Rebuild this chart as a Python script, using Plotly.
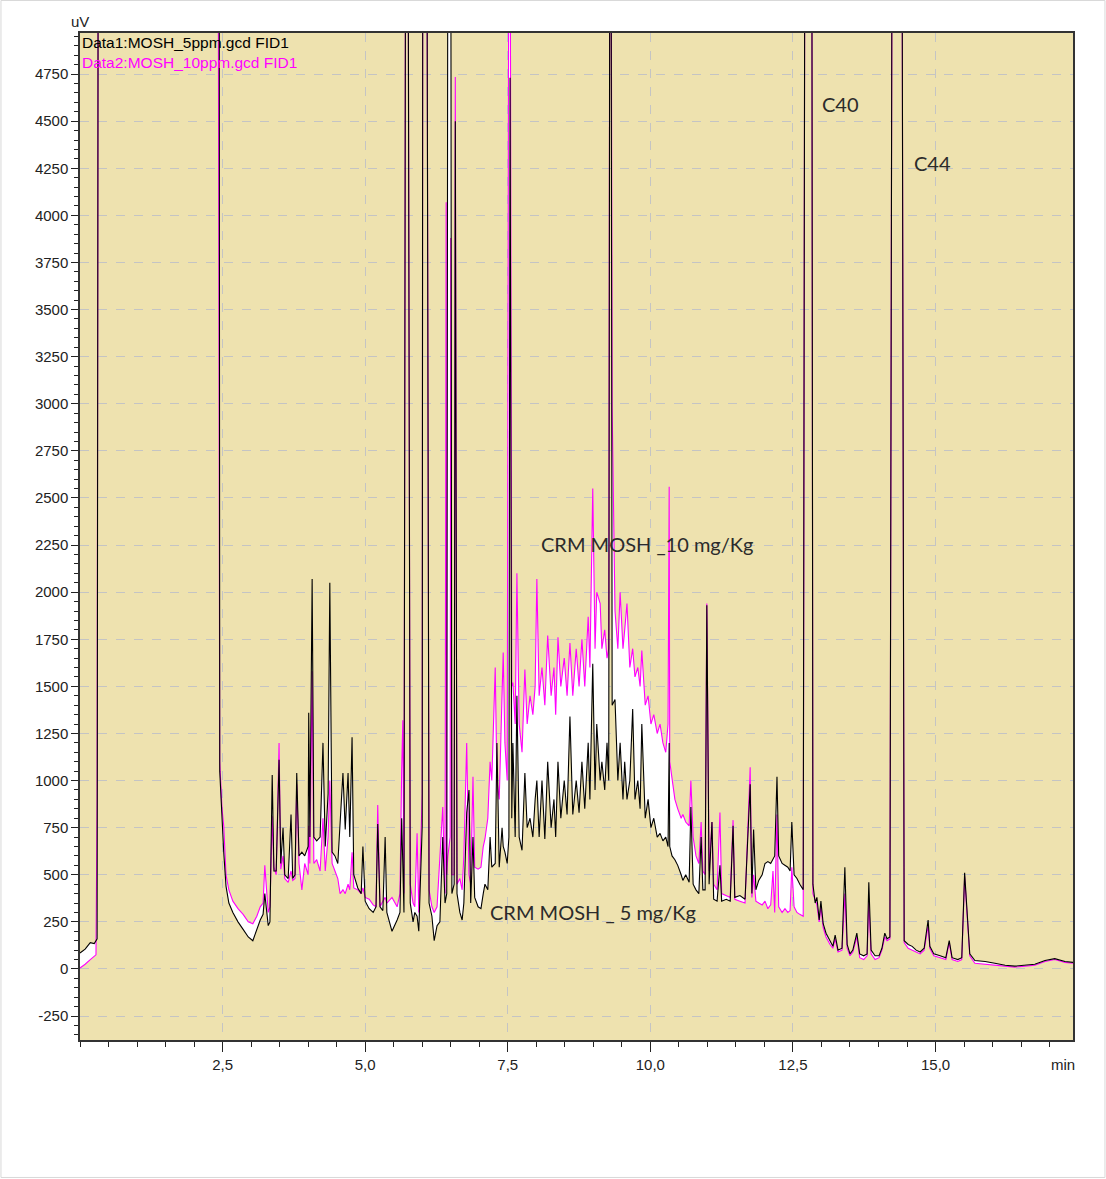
import plotly.graph_objects as go

# Retention time (min) and detector signal (uV).
time_min = [
    0.00, 0.09, 0.18, 0.25, 0.28, 0.30, 0.32, 2.42, 2.44, 2.45, 2.49, 2.52, 2.56, 2.61, 2.68, 2.77, 2.86, 2.95,
    3.03, 3.10, 3.16, 3.21, 3.24, 3.30, 3.33, 3.37, 3.40, 3.44, 3.49, 3.52, 3.56, 3.59, 3.65, 3.70, 3.73, 3.77,
    3.80, 3.84, 3.89, 3.94, 4.00, 4.01, 4.03, 4.07, 4.10, 4.15, 4.21, 4.26, 4.30, 4.35, 4.38, 4.42, 4.47, 4.52,
    4.56, 4.61, 4.65, 4.70, 4.73, 4.77, 4.80, 4.87, 4.93, 4.96, 5.00, 5.07, 5.14, 5.19, 5.22, 5.26, 5.31, 5.35,
    5.38, 5.47, 5.56, 5.61, 5.64, 5.66, 5.68, 5.71, 5.75, 5.79, 5.84, 5.87, 5.91, 5.94, 6.00, 6.01, 6.08, 6.12,
    6.17, 6.21, 6.26, 6.31, 6.36, 6.40, 6.42, 6.43, 6.45, 6.49, 6.50, 6.52, 6.56, 6.58, 6.61, 6.66, 6.70, 6.73,
    6.78, 6.82, 6.85, 6.89, 6.92, 6.98, 7.03, 7.07, 7.10, 7.15, 7.19, 7.22, 7.28, 7.31, 7.35, 7.40, 7.42, 7.45,
    7.49, 7.52, 7.54, 7.57, 7.59, 7.63, 7.66, 7.70, 7.75, 7.80, 7.84, 7.89, 7.94, 7.98, 8.01, 8.05, 8.10, 8.15,
    8.20, 8.26, 8.31, 8.34, 8.38, 8.43, 8.49, 8.54, 8.59, 8.64, 8.70, 8.75, 8.80, 8.85, 8.91, 8.94, 8.99, 9.03,
    9.06, 9.12, 9.15, 9.20, 9.24, 9.27, 9.29, 9.31, 9.33, 9.38, 9.43, 9.47, 9.52, 9.55, 9.59, 9.64, 9.69, 9.73,
    9.78, 9.82, 9.85, 9.91, 9.96, 10.01, 10.06, 10.12, 10.17, 10.22, 10.27, 10.31, 10.33, 10.34, 10.38, 10.43,
    10.48, 10.54, 10.57, 10.62, 10.68, 10.71, 10.75, 10.80, 10.85, 10.89, 10.92, 10.96, 10.99, 11.03, 11.08,
    11.11, 11.17, 11.22, 11.25, 11.33, 11.40, 11.45, 11.48, 11.57, 11.66, 11.75, 11.78, 11.81, 11.85, 11.90,
    11.96, 12.01, 12.06, 12.11, 12.15, 12.18, 12.22, 12.25, 12.31, 12.36, 12.41, 12.45, 12.48, 12.52, 12.57,
    12.62, 12.68, 12.71, 12.83, 12.85, 12.89, 12.92, 12.96, 12.99, 13.03, 13.08, 13.15, 13.20, 13.24, 13.29,
    13.36, 13.41, 13.45, 13.50, 13.55, 13.62, 13.67, 13.74, 13.80, 13.83, 13.87, 13.94, 14.01, 14.06, 14.11,
    14.15, 14.20, 14.24, 14.41, 14.45, 14.52, 14.59, 14.66, 14.73, 14.80, 14.87, 14.90, 14.97, 15.08, 15.18,
    15.24, 15.29, 15.39, 15.46, 15.51, 15.55, 15.60, 15.69, 15.87, 16.04, 16.22, 16.39, 16.57, 16.74, 16.92,
    17.09, 17.27, 17.41,
]

# Data1: MOSH_5ppm (black); off-scale peaks recorded as 6000
mosh_5ppm = [
    85, 105, 140, 135, 150, 160, 6000, 6000, 6000, 1050, 780, 620, 440, 350, 300, 250, 210, 170,
    150, 210, 260, 290, 400, 230, 250, 1030, 520, 520, 1110, 560, 750, 500, 480, 820, 480, 500,
    1040, 600, 620, 600, 650, 1360, 700, 2070, 700, 680, 700, 1200, 650, 930, 2050, 620, 600, 560,
    750, 1040, 740, 1040, 700, 1230, 500, 430, 400, 650, 360, 320, 300, 330, 770, 330, 310, 700,
    300, 200, 260, 300, 800, 500, 300, 6000, 6000, 350, 250, 300, 280, 200, 760, 6000, 6000, 350,
    280, 150, 230, 250, 700, 350, 400, 400, 6000, 6000, 6000, 400, 450, 4500, 400, 300, 260, 350,
    830, 950, 350, 700, 380, 330, 320, 400, 450, 420, 700, 540, 560, 1200, 540, 750, 650, 620,
    560, 700, 4730, 800, 1200, 700, 1450, 700, 630, 1040, 750, 800, 700, 900, 1000, 700, 1000, 690,
    1100, 750, 900, 700, 1100, 800, 1000, 820, 1340, 820, 1000, 830, 1100, 850, 1200, 900, 1620, 950,
    1300, 1000, 1100, 950, 1200, 1000, 6000, 6000, 1400, 1430, 1000, 1200, 900, 1100, 900, 1000, 1380, 900,
    1000, 850, 1300, 800, 900, 750, 800, 700, 720, 680, 700, 650, 1200, 650, 600, 580,
    550, 500, 470, 500, 460, 860, 450, 420, 400, 700, 420, 420, 1930, 450, 780,
    370, 360, 550, 360, 370, 360, 760, 380, 390, 370, 980, 400, 740, 420, 470,
    500, 560, 570, 560, 580, 600, 1020, 600, 560, 550, 540, 520, 780, 500, 480,
    450, 420, 6000, 6000, 450, 350, 380, 260, 360, 240, 190, 150, 120, 180, 100,
    110, 540, 130, 80, 100, 190, 80, 70, 80, 460, 100, 70, 70, 110, 190,
    160, 170, 6000, 6000, 150, 130, 120, 100, 90, 110, 260, 120, 80, 70, 60,
    150, 60, 50, 60, 510, 300, 80, 45, 40, 30, 20, 15, 20, 25, 45,
    55, 40, 35,
]

# Data2: MOSH_10ppm (magenta)
mosh_10ppm = [
    5, 25, 50, 65, 75, 900, 6000, 6000, 2900, 1100, 850, 760, 500, 420, 360, 320, 290, 250,
    240, 280, 330, 350, 550, 300, 330, 810, 540, 500, 1200, 530, 600, 480, 460, 520, 470, 480,
    980, 560, 420, 560, 500, 760, 560, 1580, 560, 580, 520, 800, 520, 700, 1000, 560, 520, 480,
    400, 420, 400, 450, 420, 620, 430, 420, 400, 430, 380, 370, 340, 330, 870, 330, 360, 380,
    350, 380, 330, 400, 1060, 1320, 400, 6000, 6000, 450, 350, 330, 720, 300, 930, 6000, 6000, 420,
    330, 300, 330, 580, 860, 400, 4070, 500, 600, 700, 3880, 500, 500, 4735, 450, 480, 420, 600,
    1200, 500, 450, 1020, 540, 530, 540, 650, 690, 800, 1100, 1000, 1600, 1000, 900, 1460, 1680, 1200,
    1000, 6000, 6000, 1500, 1520, 1300, 2100, 1300, 1150, 1590, 1300, 1450, 1350, 1500, 2070, 1450, 1600, 1400,
    1770, 1450, 1600, 1350, 1760, 1500, 1650, 1450, 1730, 1450, 1700, 1500, 1750, 1500, 1870, 1600, 2550, 1700,
    2000, 1940, 1700, 1800, 1650, 1700, 6000, 6000, 2980, 1900, 1700, 2000, 1700, 1800, 1940, 1600, 1700, 1550,
    1600, 1500, 1690, 1400, 1450, 1300, 1350, 1250, 1300, 1200, 1150, 1300, 2560, 1100, 1000, 900,
    850, 800, 820, 780, 760, 1000, 700, 600, 560, 780, 520, 500, 1940, 520, 780,
    450, 420, 830, 400, 390, 380, 790, 370, 360, 350, 1070, 380, 500, 360, 350,
    340, 360, 320, 340, 520, 300, 820, 330, 300, 320, 300, 310, 540, 330, 300,
    290, 280, 6000, 6000, 400, 360, 340, 250, 330, 220, 170, 130, 110, 160, 90,
    100, 400, 110, 70, 90, 170, 60, 50, 70, 360, 80, 50, 60, 100, 170,
    150, 160, 6000, 6000, 140, 110, 100, 90, 80, 100, 230, 110, 70, 60, 50,
    140, 50, 40, 50, 490, 280, 70, 30, 25, 20, 15, 10, 15, 20, 40,
    50, 35, 30,
]

x_tick_vals = [2.5, 5.0, 7.5, 10.0, 12.5, 15.0]
x_tick_text = ["2,5", "5,0", "7,5", "10,0", "12,5", "15,0"]
y_tick_vals = [-250, 0, 250, 500, 750, 1000, 1250, 1500, 1750, 2000, 2250, 2500,
               2750, 3000, 3250, 3500, 3750, 4000, 4250, 4500, 4750]
y_tick_text = [str(v) for v in y_tick_vals]

legend_labels = ["Data1:MOSH_5ppm.gcd FID1", "Data2:MOSH_10ppm.gcd FID1"]
peak_labels = [
    ("CRM MOSH _10 mg/Kg", 9.94, 2256),
    ("CRM MOSH _ 5 mg/Kg", 8.99, 303),
    ("C40", 13.34, 4591),
    ("C44", 14.94, 4278),
]

NARROW = "Liberation Sans Narrow, Arial Narrow, Liberation Sans, Arial, sans-serif"
LABEL_FONT = "Lato, Carlito, Calibri, Noto Sans, sans-serif"

fig = go.Figure()
fig.add_trace(go.Scatter(
    x=time_min, y=mosh_10ppm, mode="lines",
    line=dict(color="#FF00FF", width=1.1), name=legend_labels[1], showlegend=False,
))
fig.add_trace(go.Scatter(
    x=time_min, y=mosh_5ppm, mode="lines",
    line=dict(color="#000000", width=1.1), name=legend_labels[0], showlegend=False,
    fill="tonexty", fillcolor="#FFFFFF",
))

annotations = [
    dict(text=legend_labels[0], x=0, y=0.991, xref="paper", yref="paper",
         xanchor="left", yanchor="middle", showarrow=False,
         font=dict(family=NARROW, size=15.5, color="#000000")),
    dict(text=legend_labels[1], x=0, y=0.971, xref="paper", yref="paper",
         xanchor="left", yanchor="middle", showarrow=False,
         font=dict(family=NARROW, size=15.5, color="#FF00FF")),
    dict(text="uV", x=0, y=1.011, xref="paper", yref="paper",
         xanchor="center", yanchor="middle", showarrow=False,
         font=dict(family=NARROW, size=15, color="#222222")),
    dict(text="min", x=0.99, y=-0.024, xref="paper", yref="paper",
         xanchor="center", yanchor="middle", showarrow=False,
         font=dict(family=NARROW, size=15, color="#222222")),
]
for txt, tx, ty in peak_labels:
    annotations.append(dict(text=txt, x=tx, y=ty, xref="x", yref="y",
                            xanchor="center", yanchor="middle", showarrow=False,
                            font=dict(family=LABEL_FONT, size=20, color="#2b2b2b")))

fig.update_layout(
    width=1106, height=1179,
    margin=dict(l=80, r=33, t=33, b=139),
    paper_bgcolor="#FFFFFF",
    plot_bgcolor="#EEE2AF",
    annotations=annotations,
    shapes=[dict(type="rect", xref="paper", yref="paper",
                 x0=-0.0796, x1=1.0322, y0=-0.1365, y1=1.0323,
                 line=dict(color="#D8D8D8", width=1), layer="below")],
    xaxis=dict(
        range=[0, 17.41], tickmode="array", tickvals=x_tick_vals, ticktext=x_tick_text,
        ticks="outside", ticklen=10, tickwidth=1, tickcolor="#222222",
        showgrid=True, gridcolor="#C4C4C4", griddash="dash", gridwidth=1,
        zeroline=False, showline=True, linecolor="#333333", linewidth=1.5, mirror=True,
        tickfont=dict(family=NARROW, size=15, color="#222222"),
        minor=dict(dtick=0.5, tick0=0, ticks="outside", ticklen=5, tickcolor="#222222", showgrid=False),
    ),
    yaxis=dict(
        range=[-377, 4968], tickmode="array", tickvals=y_tick_vals, ticktext=y_tick_text,
        ticks="outside", ticklen=7, tickwidth=1, tickcolor="#222222",
        showgrid=True, gridcolor="#C4C4C4", griddash="dash", gridwidth=1,
        zeroline=False, showline=True, linecolor="#333333", linewidth=1.5, mirror=True,
        tickfont=dict(family=NARROW, size=15, color="#222222"),
        minor=dict(dtick=50, tick0=0, ticks="outside", ticklen=4, tickcolor="#222222", showgrid=False),
    ),
)

fig.write_html("out.html")
